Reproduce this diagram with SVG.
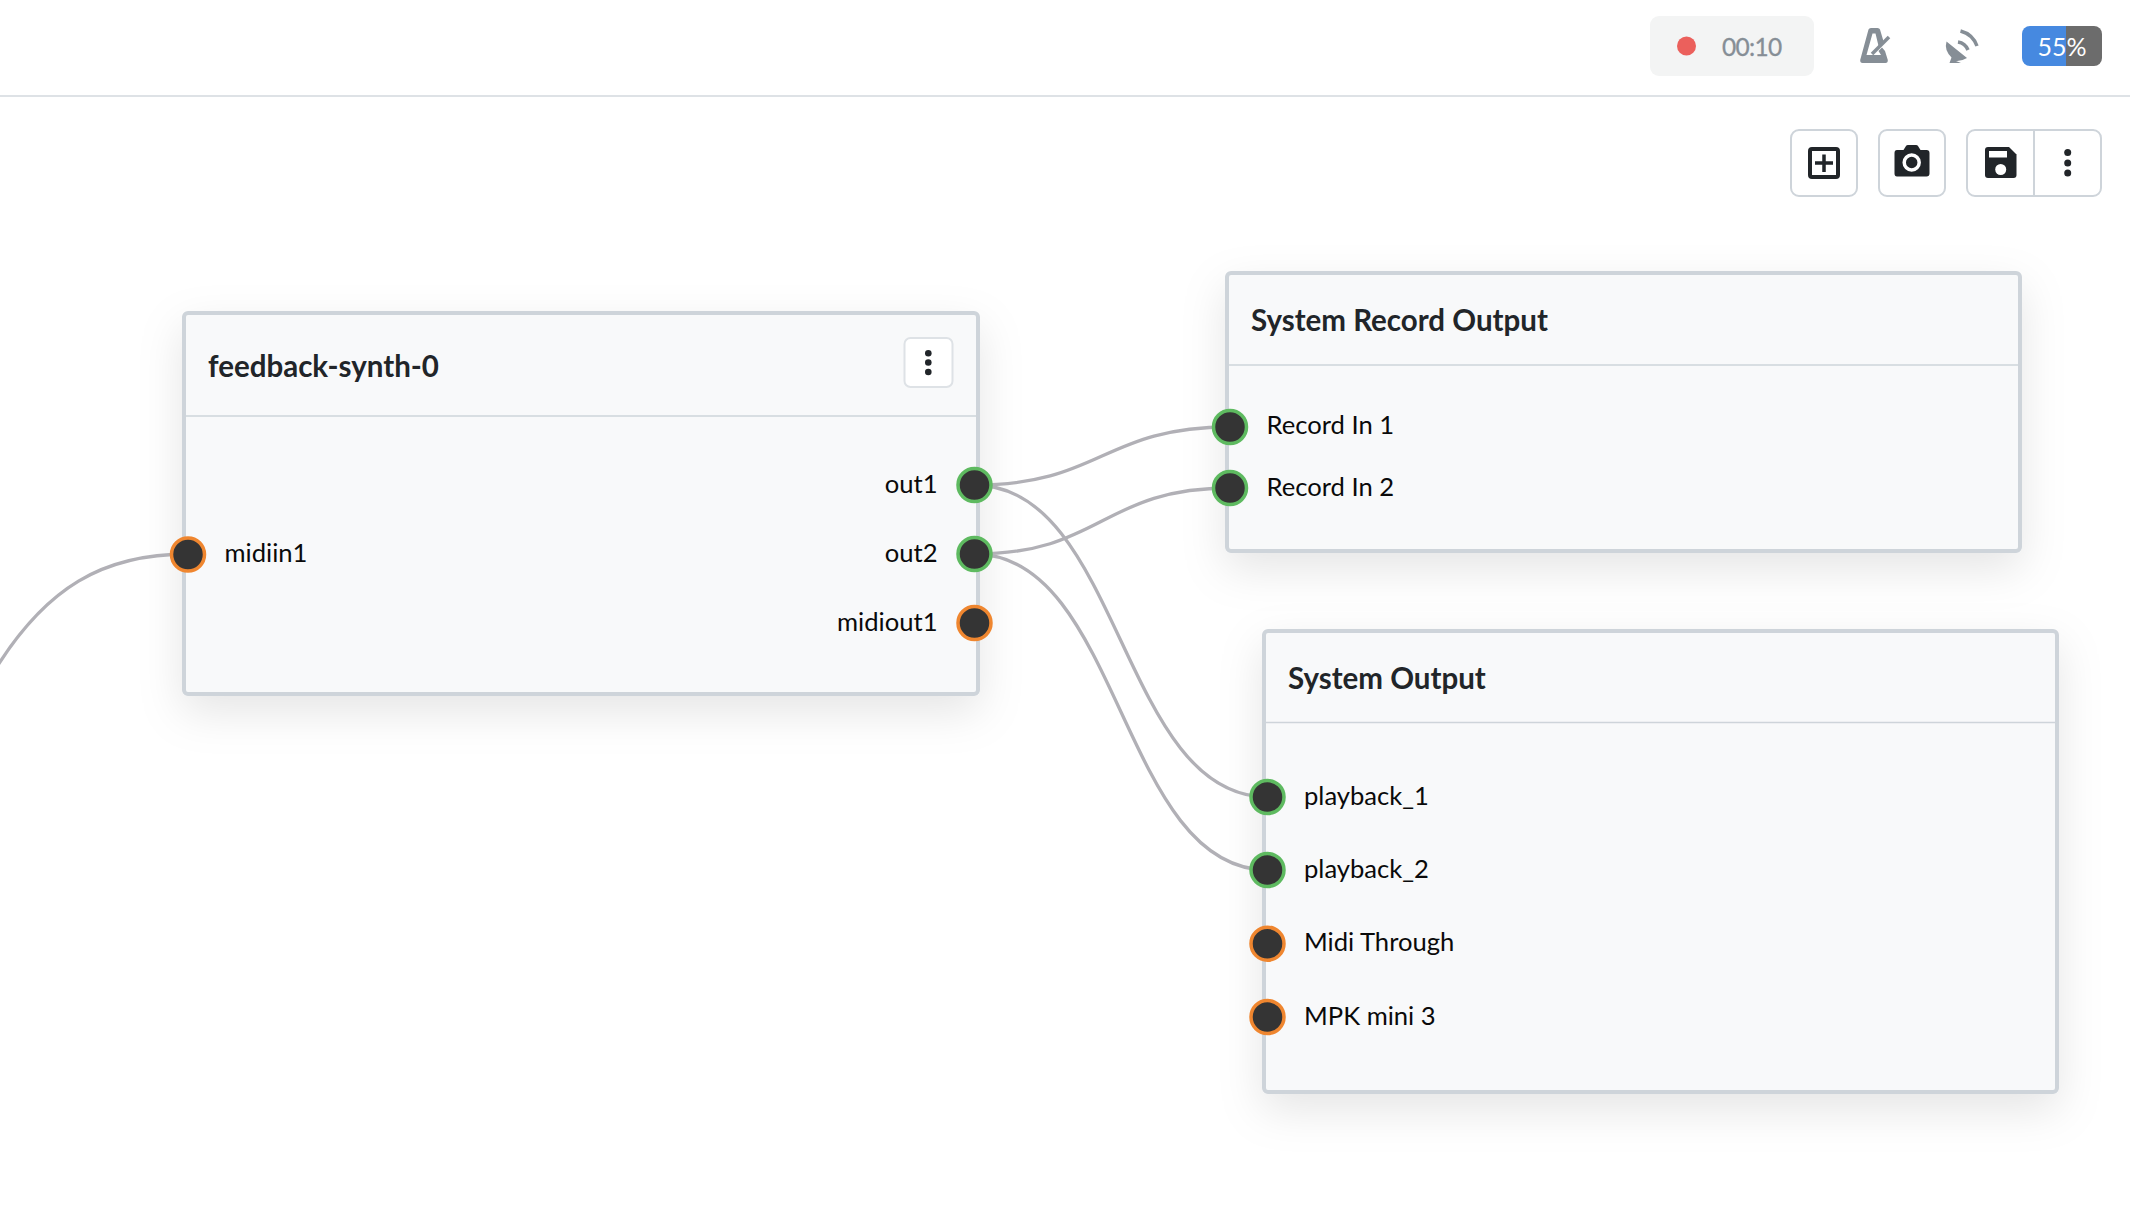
<svg xmlns="http://www.w3.org/2000/svg" width="2130" height="1228" viewBox="0 0 2130 1228">
<style>
text{font-family:"Lato","Liberation Sans",sans-serif}
.card{fill:#f8f9fa;stroke:#ced4da;stroke-width:4;filter:url(#sh)}
.hl{stroke:#ced4da;stroke-width:1.5;fill:none}
.title{font-size:29.5px;font-weight:700;fill:#212529}
.lbl{font-size:25.6px;fill:#0a0a0a}
.end{text-anchor:end}
.wire{fill:none;stroke:#b1b0b6;stroke-width:3.3}
.port{fill:#343434;stroke-width:3.5}
.g{stroke:#5eba60}
.o{stroke:#ef862f}
.btn{fill:#fff;stroke:#ced4da;stroke-width:2}
.ic{fill:#212529}
.gi{fill:#868e96}
</style>
<defs>
<filter id="sh" x="-20%" y="-20%" width="140%" height="150%"><feDropShadow dx="0" dy="16" stdDeviation="22" flood-color="#000" flood-opacity="0.1"/></filter>
</defs>
<rect width="2130" height="1228" fill="#fff"/>
<g id="toolbar">
<rect x="0" y="95" width="2130" height="2" fill="#dee2e6"/>
<rect x="1650" y="16" width="164" height="60" rx="9" fill="#f3f4f4"/>
<circle cx="1686.5" cy="46" r="9.500" fill="#eb605c"/>
<text x="1722" y="55.500" font-size="24.500" letter-spacing="-0.700" fill="#868e96" stroke="#868e96" stroke-width="0.300">00:10</text>
<path class="gi" fill-rule="evenodd" d="M1868.500,29.500Q1869,28 1871,28H1877.500Q1879.500,28 1880,29.500L1884,43L1879,48L1875.500,33.500H1872.500L1866.500,55H1881L1878.500,51L1882,47.500L1885,51L1887.800,60Q1888,63 1885.500,63H1862.500Q1860,63 1860.200,60Z"/>
<path d="M1872,54L1889,37" stroke="#868e96" stroke-width="3.500" fill="none"/>
<path class="gi" d="M1946.500,41.500L1967,58Q1961,61.500 1956,61L1961,63H1949.500L1951.500,57.500Q1944,50 1946.500,41.500Z"/>
<path d="M1960.500,31A24,24 0 0 1 1977,46M1958,42A13,13 0 0 1 1968,50" fill="none" stroke="#868e96" stroke-width="3.500"/>
<path d="M2030,26H2066V66H2030A8,8 0 0 1 2022,58V34A8,8 0 0 1 2030,26Z" fill="#4689e0"/>
<path d="M2066,26H2094A8,8 0 0 1 2102,34V58A8,8 0 0 1 2094,66H2066Z" fill="#6c6c6c"/>
<text x="2062" y="56" font-size="25" fill="#fff" text-anchor="middle">55%</text>
</g>
<g id="btn-add">
<rect class="btn" x="1791" y="130" width="66" height="66" rx="8"/>
<rect x="1810" y="149" width="28" height="28" rx="2" fill="none" stroke="#212529" stroke-width="4"/>
<path d="M1824,154.500V172M1815,163H1833" stroke="#212529" stroke-width="3.500" fill="none"/>
</g>
<g id="btn-camera">
<rect class="btn" x="1879" y="130" width="66" height="66" rx="8"/>
<path class="ic" d="M1897,150H1903.500L1906,146Q1906.500,145 1908,145H1916Q1917.500,145 1918,146L1920.500,150H1926.500Q1929.500,150 1929.500,153V173.500Q1929.500,176.500 1926.500,176.500H1897Q1894.500,176.500 1894.500,173.500V153Q1894.500,150 1897,150Z"/>
<circle cx="1911.700" cy="162.500" r="7.500" fill="none" stroke="#fff" stroke-width="3.500"/>
</g>
<g id="btn-save">
<rect class="btn" x="1967" y="130" width="134" height="66" rx="8"/>
<path d="M2034,130V196" stroke="#ced4da" stroke-width="2"/>
<path class="ic" d="M1988,147H2009L2016.500,154.500V175Q2016.500,178 2013.500,178H1988Q1985,178 1985,175V150Q1985,147 1988,147Z"/>
<rect x="1989" y="151" width="18" height="6.500" fill="#fff"/>
<circle cx="2000.700" cy="169.500" r="5.500" fill="#fff"/>
<circle class="ic" cx="2067.700" cy="152.500" r="3.500"/>
<circle class="ic" cx="2067.700" cy="163" r="3.500"/>
<circle class="ic" cx="2067.700" cy="173" r="3.500"/>
</g>
<g id="node-feedback-synth">
<rect class="card" x="184" y="313" width="794" height="381" rx="4"/>
<path class="hl" d="M186,416H976"/>
<text class="title" x="208" y="376.500">feedback-synth-0</text>
<rect x="904.500" y="338" width="48" height="49" rx="6" fill="#fff" stroke="#dee2e6" stroke-width="2"/>
<circle class="ic" cx="928.300" cy="353.300" r="3.300"/>
<circle class="ic" cx="928.300" cy="362.500" r="3.300"/>
<circle class="ic" cx="928.300" cy="372" r="3.300"/>
<text class="lbl" x="224.500" y="562">midiin1</text>
<text class="lbl end" x="937.500" y="493">out1</text>
<text class="lbl end" x="937.500" y="562">out2</text>
<text class="lbl end" x="937.500" y="631">midiout1</text>
</g>
<g id="node-record">
<rect class="card" x="1227" y="273" width="793" height="278" rx="4"/>
<path class="hl" d="M1229,365H2018"/>
<text class="title" x="1251" y="330.500">System Record Output</text>
<text class="lbl" x="1266.500" y="434">Record In 1</text>
<text class="lbl" x="1266.500" y="496">Record In 2</text>
</g>
<g id="node-system-output">
<rect class="card" x="1264" y="631" width="793" height="461" rx="4"/>
<path class="hl" d="M1266,722.500H2055"/>
<text class="title" x="1288" y="689">System Output</text>
<text class="lbl" x="1304" y="805">playback_1</text>
<text class="lbl" x="1304" y="878">playback_2</text>
<text class="lbl" x="1304" y="951">Midi Through</text>
<text class="lbl" x="1304" y="1025">MPK mini 3</text>
</g>
<g id="connectors">
<path class="wire" d="M-10,678C45,585 105,554 188,554"/>
<path class="wire" d="M974.500,485C1102,485 1102,427 1230,427"/>
<path class="wire" d="M974.500,554C1102,554 1102,488 1230,488"/>
<path class="wire" d="M974.500,485C1121,485 1121,797 1267.500,797"/>
<path class="wire" d="M974.500,554C1121,554 1121,870 1267.500,870"/>
</g>
<g id="ports">
<circle class="port o" cx="188" cy="554.500" r="16.500"/>
<circle class="port g" cx="974.500" cy="485" r="16.500"/>
<circle class="port g" cx="974.500" cy="554" r="16.500"/>
<circle class="port o" cx="974.500" cy="623" r="16.500"/>
<circle class="port g" cx="1230" cy="427" r="16.500"/>
<circle class="port g" cx="1230" cy="488" r="16.500"/>
<circle class="port g" cx="1267.500" cy="797" r="16.500"/>
<circle class="port g" cx="1267.500" cy="870" r="16.500"/>
<circle class="port o" cx="1267.500" cy="943.700" r="16.500"/>
<circle class="port o" cx="1267.500" cy="1017" r="16.500"/>
</g>
</svg>
